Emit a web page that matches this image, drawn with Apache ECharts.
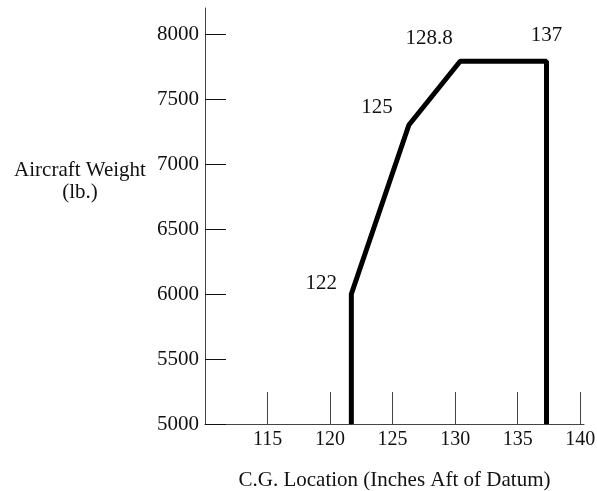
<!DOCTYPE html>
<html>
<head>
<meta charset="utf-8">
<script src="https://cdn.jsdelivr.net/npm/echarts@6/dist/echarts.min.js"></script>
<style>
  html, body { margin: 0; padding: 0; background: #fff; }
  #cgChart { width: 597px; height: 491px; }
</style>
</head>
<body>
<div id="cgChart"></div>
<script>
// envelope corners
var cgLocation = [121.7, 121.7, 126.3, 130.4, 137.3, 137.3];
var weight = [5000, 6000, 7300, 7790, 7790, 5000];
var pointLabels = ['', '122', '125', '128.8', '137', ''];
var xTicks = [115, 120, 125, 130, 135, 140];
var yTicks = [5000, 5500, 6000, 6500, 7000, 7500, 8000];

var font = 'Liberation Serif';
// label placement relative to each corner (px)
var labelOffsets = [null, [-30, -11], [-32, -18], [-31, -23], [0, -26], null];

var envelope = [];
for (var i = 0; i < cgLocation.length; i++) {
  var item = { value: [cgLocation[i], weight[i]] };
  if (labelOffsets[i]) {
    item.label = { show: true, position: 'inside', offset: labelOffsets[i] };
  }
  envelope.push(item);
}

var chart = echarts.init(document.getElementById('cgChart'));
var option = {
  animation: false,
  backgroundColor: '#fff',
  grid: {
    left: 205,
    right: 13,
    top: 8,
    bottom: 67,
    outerBoundsMode: 'none'
  },
  graphic: [{
    type: 'text',
    x: 80,
    y: 181,
    style: {
      text: 'Aircraft Weight\n(lb.)',
      textAlign: 'center',
      textVerticalAlign: 'middle',
      fontFamily: font,
      fontSize: 21,
      lineHeight: 22,
      fill: '#111'
    }
  }],
  xAxis: {
    type: 'value',
    min: 110,
    max: 140.3,
    name: 'C.G. Location (Inches Aft of Datum)',
    nameLocation: 'middle',
    nameGap: 46,
    nameTextStyle: {
      fontFamily: font,
      fontSize: 21,
      color: '#111'
    },
    splitLine: { show: false },
    axisLine: { lineStyle: { color: '#444', width: 1 } },
    axisTick: {
      inside: true,
      length: 32,
      customValues: xTicks,
      lineStyle: { color: '#444', width: 1 }
    },
    axisLabel: {
      customValues: xTicks,
      margin: 6,
      fontFamily: font,
      fontSize: 20,
      color: '#111'
    }
  },
  yAxis: {
    type: 'value',
    min: 5000,
    max: 8200,
    splitLine: { show: false },
    axisLine: { show: true, lineStyle: { color: '#444', width: 1 } },
    axisTick: {
      show: true,
      inside: true,
      length: 21,
      customValues: yTicks,
      lineStyle: { color: '#111', width: 1 }
    },
    axisLabel: {
      customValues: yTicks,
      margin: 6,
      fontFamily: font,
      fontSize: 21,
      color: '#111',
      padding: [5, 0, 0, 0],
      formatter: function (v) { return String(v); }
    }
  },
  series: [{
    type: 'line',
    data: envelope,
    symbol: 'circle',
    symbolSize: 1,
    itemStyle: { color: '#000' },
    lineStyle: { color: '#000', width: 5 },
    label: {
      show: false,
      fontFamily: font,
      fontSize: 21,
      color: '#111',
      formatter: function (p) {
        return pointLabels[p.dataIndex];
      }
    }
  }]
};
chart.setOption(option);
</script>
</body>
</html>
